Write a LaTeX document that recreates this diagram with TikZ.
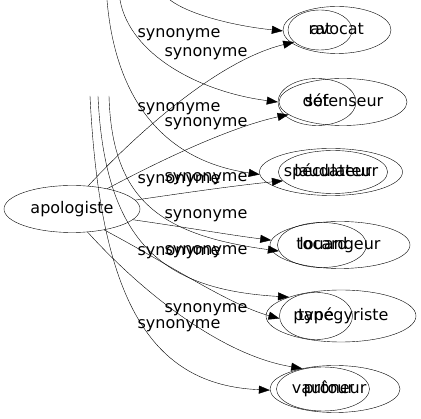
\documentclass[tikz,border=0pt]{standalone}
\usepackage{fontspec}
\setmainfont{DejaVu Sans}
\usetikzlibrary{shapes.geometric,arrows.meta}

\begin{document}
\begin{tikzpicture}[x=1pt,y=-1pt,
    every node/.style={font=\fontsize{16}{19}\selectfont,text height=12pt,text depth=3.5pt},
    word/.style={draw,ellipse,inner sep=0pt,minimum height=47pt},
    rel/.style={inner sep=0pt},
    link/.style={-{Triangle[length=11pt,width=8pt]}}]
    \useasboundingbox (0,0) rectangle (421,419);
    % centre
    \node[word,minimum width=136pt] (apologiste) at (72,209) {apologiste};
    % right column, second graph behind
    \node[word,minimum width=108pt] (avocat) at (337,30) {avocat};
    \node[word,minimum width=64pt,minimum height=40pt] (rat) at (320,30) {rat};
    \node[word,minimum width=128pt] (defenseur) at (343,102) {défenseur};
    \node[word,minimum width=78pt] (sot) at (317,102) {sot};
    \node[word,minimum width=143pt] (speculateur) at (331,172) {spéculateur};
    \node[word,minimum width=106pt,minimum height=43pt] (laudateur) at (333,172) {laudateur};
    \node[word,minimum width=140pt] (louangeur) at (340,245) {louangeur};
    \node[word,minimum width=89pt,minimum height=45pt] (tocard) at (322,245) {tocard};
    \node[word,minimum width=150pt,minimum height=52pt] (panegyriste) at (341,316) {panégyriste};
    \node[word,minimum width=73pt] (type) at (316,316) {type};
    \node[word,minimum width=130pt] (proneur) at (335,389) {prôneur};
    \node[word,minimum width=93pt,minimum height=44pt] (vautour) at (323,389) {vautour};
    % loose ends of the second graph
    \coordinate (t1) at (170,0);
    \coordinate (t2) at (120,0);
    \coordinate (t3) at (107,0);
    \coordinate (v1) at (109,96);
    \coordinate (v2) at (98,96);
    \coordinate (v3) at (90,96);
    % edges
    \draw[link] (t1) .. controls (190,15) and (235,26) .. (avocat.181);
    \draw[link] (t2) .. controls (130,55) and (200,92) .. (sot.180);
    \draw[link] (t3) .. controls (115,95) and (160,160) .. (speculateur.182);
    \draw[link] (v1) .. controls (112,200) and (160,235) .. (tocard.188);
    \draw[link] (v2) .. controls (105,250) and (170,290) .. (panegyriste.160);
    \draw[link] (v3) .. controls (100,300) and (150,385) .. (proneur.181);
    \draw[link] (apologiste.55) .. controls (140,130) and (220,60) .. (rat.205);
    \draw[link] (apologiste.30) .. controls (180,150) and (240,125) .. (defenseur.193);
    \draw[link] (apologiste.8) .. controls (190,192) and (240,185) .. (laudateur.190);
    \draw[link] (apologiste.-10) .. controls (190,228) and (230,235) .. (louangeur.176);
    \draw[link] (apologiste.-33) .. controls (170,265) and (230,305) .. (type.184);
    \draw[link] (apologiste.-56) .. controls (140,290) and (220,355) .. (proneur.148);
    % labels
    \foreach \y in {33,107,179,251,324}
        \node[rel] at (179,\y) {synonyme};
    \foreach \y in {52,122,177,214,250,308}
        \node[rel] at (206,\y) {synonyme};
\end{tikzpicture}
\end{document}
